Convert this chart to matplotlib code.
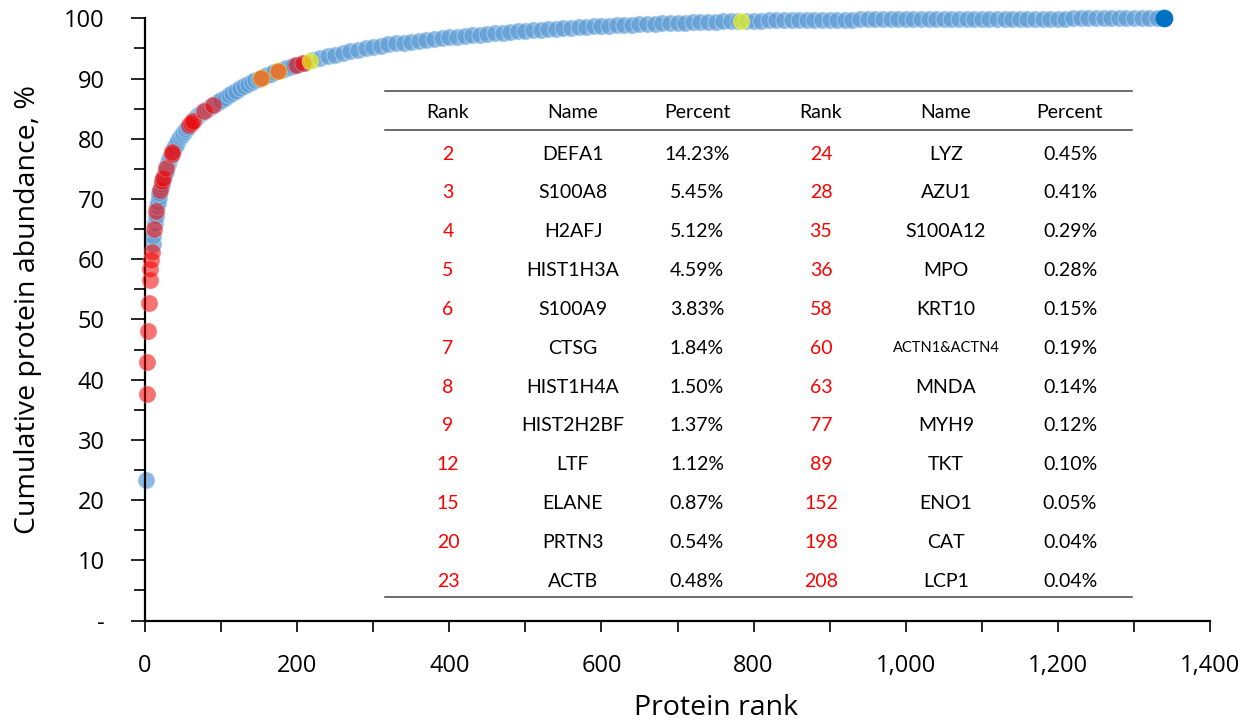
import matplotlib
matplotlib.use("Agg")
import matplotlib.pyplot as plt
from matplotlib.lines import Line2D
from matplotlib.ticker import MultipleLocator, FixedLocator

# ---------------- data ----------------
# cumulative abundance (%) for non-highlighted proteins, by rank
blue_ranks_low = [1, 10, 11, 13, 14, 16, 17, 18, 19, 21, 22, 25, 26, 27, 29, 30, 31, 32, 33, 34,
                  37, 38, 39, 40, 42, 44, 46, 48, 50, 52, 54, 56, 62, 64, 66, 68, 70, 72, 74, 76,
                  78, 80, 82, 84, 86, 88, 90, 92, 94, 96, 98, 100]
blue_vals_low = [23.3, 62.58, 63.88, 66.08, 67.1, 68.8, 69.55, 70.27, 70.95, 71.99, 72.48, 73.86,
                 74.3, 74.72, 75.52, 75.9, 76.26, 76.6, 76.92, 77.22, 78.06, 78.33, 78.59, 78.84,
                 79.32, 79.78, 80.21, 80.62, 81.0, 81.36, 81.7, 82.0, 82.88, 83.15, 83.4, 83.64,
                 83.87, 84.08, 84.28, 84.47, 84.65, 84.83, 85.0, 85.17, 85.33, 85.49, 85.65, 85.81,
                 85.97, 86.12, 86.27, 86.42]
blue_ranks_mid = [105, 110, 115, 120, 125, 130, 135, 140, 145, 150, 155, 160, 165, 170,
                  180, 185, 190, 195]
blue_vals_mid = [86.83, 87.23, 87.62, 88.0, 88.36, 88.71, 89.05, 89.38, 89.7, 90.0, 90.27, 90.53,
                 90.78, 91.02, 91.47, 91.68, 91.89, 92.09]
blue_ranks_tail = list(range(200, 1340, 10))
blue_vals_tail = [
    92.29, 92.66, 93.0, 93.34, 93.67, 93.98, 94.27, 94.55, 94.81, 95.05,
    95.27, 95.47, 95.65, 95.82, 95.98, 96.13, 96.28, 96.42, 96.56, 96.69,
    96.82, 96.94, 97.06, 97.18, 97.29, 97.4, 97.51, 97.62, 97.72, 97.82,
    97.91, 98.0, 98.09, 98.18, 98.26, 98.34, 98.42, 98.5, 98.57, 98.64,
    98.7, 98.76, 98.82, 98.88, 98.93, 98.99, 99.04, 99.1, 99.15, 99.2,
    99.25, 99.3, 99.34, 99.38, 99.42, 99.46, 99.49, 99.52, 99.55, 99.58,
    99.6, 99.62, 99.64, 99.66, 99.68, 99.7, 99.71, 99.73, 99.74, 99.76,
    99.77, 99.78, 99.79, 99.8, 99.81, 99.82, 99.83, 99.84, 99.85, 99.86,
    99.86, 99.87, 99.87, 99.88, 99.88, 99.89, 99.89, 99.9, 99.9, 99.91,
    99.91, 99.92, 99.92, 99.93, 99.93, 99.94, 99.94, 99.95, 99.95, 99.95,
    99.96, 99.96, 99.97, 99.97, 99.97, 99.98, 99.98, 99.98, 99.99, 99.99,
    99.99, 99.99, 100.0, 100.0]

red_ranks = [2, 3, 4, 5, 6, 7, 8, 9, 12, 15, 20, 23, 24, 28, 35, 36, 58, 60, 63, 77, 89, 198, 208]
red_vals = [37.53, 42.98, 48.10, 52.69, 56.52, 58.36, 59.86, 61.23, 65.0, 67.97, 71.49, 72.96,
            73.41, 75.13, 77.51, 77.79, 82.28, 82.6, 83.02, 84.56, 85.57, 92.21, 92.59]
orange_ranks = [152, 175]
orange_vals = [90.11, 91.25]
yellow_ranks = [217, 784]
yellow_vals = [92.9, 99.56]
last_rank = [1340]
last_val = [100.0]

# table
tbl_header = ["Rank", "Name", "Percent", "Rank", "Name", "Percent"]
rank_left = [2, 3, 4, 5, 6, 7, 8, 9, 12, 15, 20, 23]
name_left = ["DEFA1", "S100A8", "H2AFJ", "HIST1H3A", "S100A9", "CTSG", "HIST1H4A",
             "HIST2H2BF", "LTF", "ELANE", "PRTN3", "ACTB"]
pct_left = ["14.23%", "5.45%", "5.12%", "4.59%", "3.83%", "1.84%", "1.50%", "1.37%",
            "1.12%", "0.87%", "0.54%", "0.48%"]
rank_right = [24, 28, 35, 36, 58, 60, 63, 77, 89, 152, 198, 208]
name_right = ["LYZ", "AZU1", "S100A12", "MPO", "KRT10", "ACTN1&ACTN4", "MNDA", "MYH9",
              "TKT", "ENO1", "CAT", "LCP1"]
pct_right = ["0.45%", "0.41%", "0.29%", "0.28%", "0.15%", "0.19%", "0.14%", "0.12%",
             "0.10%", "0.05%", "0.04%", "0.04%"]

x_ticks = [0, 200, 400, 600, 800, 1000, 1200, 1400]
x_labels = ["0", "200", "400", "600", "800", "1,000", "1,200", "1,400"]
y_ticks = [0, 10, 20, 30, 40, 50, 60, 70, 80, 90, 100]
y_labels = ["-", "10", "20", "30", "40", "50", "60", "70", "80", "90", "100"]

# ---------------- figure ----------------
W, H = 1257, 727
fig = plt.figure(figsize=(W / 100, H / 100), dpi=100)
fx = lambda x: x / W
fy = lambda y: 1 - y / H

x0, x1, ytop, ybot = 145, 1210, 18.3, 620.5
ax = fig.add_axes([fx(x0), fy(ybot), (x1 - x0) / W, (ybot - ytop) / H])
ax.set_xlim(0, 1400)
ax.set_ylim(0, 100)

ms = 150
blue_fc = (91 / 255, 155 / 255, 213 / 255, 0.7)
edge = (0.85, 0.92, 0.98, 0.45)
br = blue_ranks_low + blue_ranks_mid + blue_ranks_tail
bv = blue_vals_low + blue_vals_mid + blue_vals_tail
ax.scatter(br, bv, s=ms, facecolors=[blue_fc], edgecolors=[edge], linewidths=0.8,
           clip_on=False, zorder=2)
ax.scatter(red_ranks, red_vals, s=ms, facecolors=[(0.95, 0, 0, 0.55)],
           edgecolors=[(1, 0.8, 0.8, 0.35)], linewidths=0.7, clip_on=False, zorder=3)
ax.scatter(orange_ranks, orange_vals, s=ms, facecolors=[(0.93, 0.45, 0.15, 0.92)],
           edgecolors=[(1, 1, 0.4, 0.5)], linewidths=0.7, clip_on=False, zorder=4)
ax.scatter(yellow_ranks, yellow_vals, s=ms, facecolors=[(1, 1, 0, 0.62)],
           edgecolors=[(1, 1, 1, 0.3)], linewidths=0.7, clip_on=False, zorder=4)
ax.scatter(last_rank, last_val, s=ms, facecolors=["#0070C0"], edgecolors=["#0070C0"],
           linewidths=0.5, clip_on=False, zorder=5)

for s in ["top", "right"]:
    ax.spines[s].set_visible(False)
for s in ["left", "bottom"]:
    ax.spines[s].set_linewidth(1.6)
    ax.spines[s].set_color("black")

tick_font = dict(family="Open Sans", size=17)
ax.xaxis.set_major_locator(FixedLocator(x_ticks))
ax.set_xticklabels(x_labels, fontdict=tick_font)
ax.xaxis.set_minor_locator(MultipleLocator(100))
ax.yaxis.set_major_locator(FixedLocator(y_ticks))
ax.set_yticklabels(y_labels, fontdict=tick_font)
ax.yaxis.set_minor_locator(MultipleLocator(5))
ax.tick_params(axis="x", which="both", direction="out", length=8, width=1.2, pad=16)
ax.tick_params(axis="y", which="major", direction="out", length=10, width=1.2, pad=19)
ax.tick_params(axis="y", which="minor", direction="out", length=8, width=1.2)

fig.text(fx(28), fy(310), "Cumulative protein abundance, %", rotation=90, ha="center",
         va="center", family="Open Sans", size=20.5)
fig.text(fx(716), fy(708), "Protein rank", ha="center", va="center",
         family="Open Sans", size=20.5)

# ---------------- table ----------------
line_kw = dict(color="#444444", linewidth=1.1, transform=fig.transFigure)
for yy in (91, 130, 597):
    fig.add_artist(Line2D([fx(385), fx(1132)], [fy(yy), fy(yy)], **line_kw))

col_x = [448, 573, 697, 821, 946, 1070]
tfont = "Lato"
for cx, h in zip(col_x, tbl_header):
    fig.text(fx(cx), fy(113), h, ha="center", va="center", family=tfont, size=14)

row_y0, row_dy = 154, 38.85
for i in range(len(rank_left)):
    yy = fy(row_y0 + i * row_dy)
    fig.text(fx(col_x[0]), yy, str(rank_left[i]), ha="center", va="center",
             family=tfont, size=14, color="#FF0000")
    fig.text(fx(col_x[1]), yy, name_left[i], ha="center", va="center", family=tfont, size=14)
    fig.text(fx(col_x[2]), yy, pct_left[i], ha="center", va="center", family=tfont, size=14)
    fig.text(fx(col_x[3]), yy, str(rank_right[i]), ha="center", va="center",
             family=tfont, size=14, color="#FF0000")
    nsize = 10.5 if len(name_right[i]) > 9 else 14
    fig.text(fx(col_x[4]), yy, name_right[i], ha="center", va="center", family=tfont, size=nsize)
    fig.text(fx(col_x[5]), yy, pct_right[i], ha="center", va="center", family=tfont, size=14)

fig.savefig("out.png", dpi=100)
